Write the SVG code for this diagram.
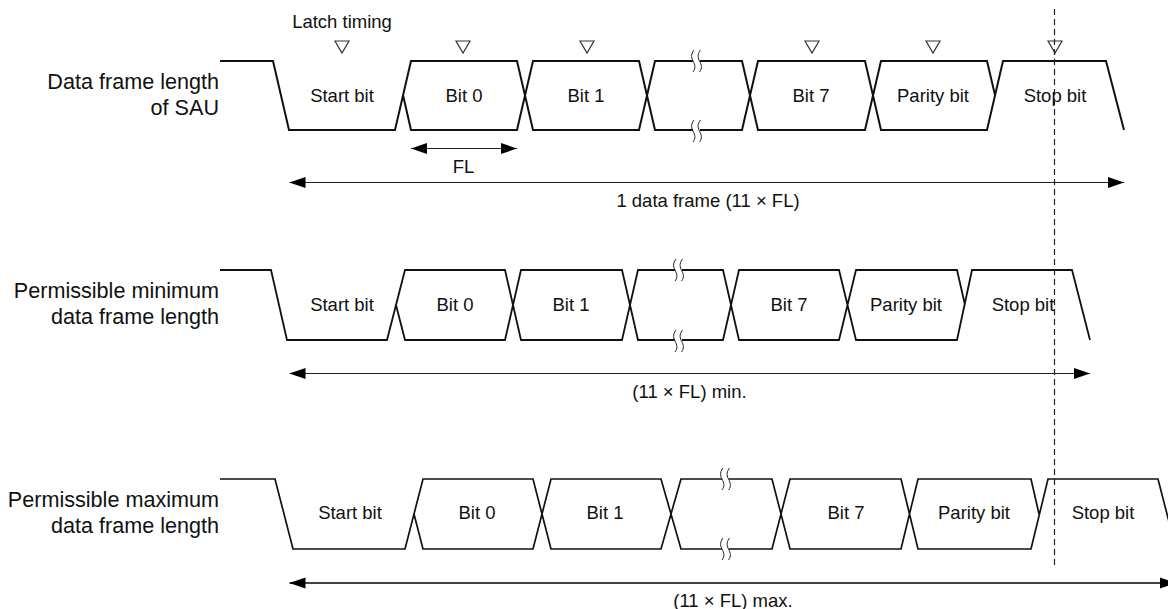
<svg xmlns="http://www.w3.org/2000/svg" width="1168" height="609" viewBox="0 0 1168 609">
<style>
text{font-family:"Liberation Sans",Arial,sans-serif;font-size:18.5px;fill:#111;text-anchor:middle}
.lab{font-size:21.6px;text-anchor:end}
.w{fill:none;stroke:#111;stroke-width:2;stroke-linejoin:miter}
.t{fill:#fff;stroke:#333;stroke-width:1.2}
.d{stroke:#222;stroke-width:1.2;fill:none}
.g{fill:none;stroke:#222;stroke-width:1}
.gap{stroke:#fff;stroke-width:6;fill:none}
</style>
<defs>
<marker id="a" viewBox="0 0 16 12" refX="16" refY="6" markerWidth="16" markerHeight="12" markerUnits="userSpaceOnUse" orient="auto-start-reverse"><path d="M0 0.500L16 6L0 11.500z" fill="#000"/></marker>
<g id="sq"><path class="gap" d="M-3 0H4"/><path class="g" d="M-2 -11C-6 -6 -4 -2 -3 0C-1 4 0 7 -3 11M4.500 -11C0.500 -6 2.500 -2 3.500 0C5.500 4 6.500 7 3.500 11"/></g>
<path id="tri" d="M-7 -6H7L0 6z"/>
</defs>
<g id="row1">
<path class="w" d="M220 61H273L289 130H395L411 61H517L533 130H639L655 61H742L758 130H865L881 61H987L995 95M403 95L411 130H517L533 61H639L655 130H742L758 61H865L881 130H987L1003 61H1106L1124 130"/>
<use href="#sq" x="696" y="61"/><use href="#sq" x="696" y="131"/>
</g>
<g id="row2">
<path class="w" style="stroke-width:1.8" d="M220 270H271L287 340H387L405 270H505L521 340H622L638 270H723L739 340H839L856 270H957L965 305M396 305L405 340H505L521 270H622L638 340H723L739 270H839L856 340H957L972 270H1072L1090 340"/>
<use href="#sq" x="678" y="270"/><use href="#sq" x="678" y="341"/>
</g>
<g id="row3">
<path class="w" style="stroke-width:1.7" d="M220 479H275L293 549H405L423 479H533L551 549H661L681 479H772L790 549H901L918 479H1031L1039 514M414 514L423 549H533L551 479H661L681 549H772L790 479H901L918 549H1031L1048 479H1158L1176 549"/>
<use href="#sq" x="725" y="479"/><use href="#sq" x="725" y="549"/>
</g>
<g id="latch">
<use href="#tri" class="t" x="342" y="47"/><use href="#tri" class="t" x="463" y="47"/><use href="#tri" class="t" x="587" y="47"/><use href="#tri" class="t" x="812" y="47"/><use href="#tri" class="t" x="933" y="47"/><use href="#tri" class="t" x="1055" y="47"/>
</g>
<g id="connectors">
<path class="d" d="M1054.500 9V566" stroke-dasharray="6 4"/>
<path class="d" d="M411 148.500H517" marker-start="url(#a)" marker-end="url(#a)"/>
<path class="d" d="M289.500 182.500H1124" marker-start="url(#a)" marker-end="url(#a)"/>
<path class="d" d="M289.500 373.500H1090" marker-start="url(#a)" marker-end="url(#a)"/>
<path class="d" style="stroke-width:2;stroke:#444" d="M289.500 583H1176" marker-start="url(#a)" marker-end="url(#a)"/>
</g>
<g id="labels">
<text x="342" y="28">Latch timing</text>
<text class="lab" x="219" y="89">Data frame length</text>
<text class="lab" x="219" y="115">of SAU</text>
<text class="lab" x="219" y="298">Permissible minimum</text>
<text class="lab" x="219" y="324">data frame length</text>
<text class="lab" x="219" y="507">Permissible maximum</text>
<text class="lab" x="219" y="533">data frame length</text>
<text x="342" y="102">Start bit</text><text x="464" y="102">Bit 0</text><text x="586" y="102">Bit 1</text><text x="811" y="102">Bit 7</text><text x="933" y="102">Parity bit</text><text x="1055" y="102">Stop bit</text>
<text x="463.500" y="173">FL</text>
<text x="708" y="206.500">1 data frame (11 × FL)</text>
<text x="342" y="311">Start bit</text><text x="455" y="311">Bit 0</text><text x="571" y="311">Bit 1</text><text x="789" y="311">Bit 7</text><text x="906" y="311">Parity bit</text><text x="1023" y="311">Stop bit</text>
<text x="689.500" y="398">(11 × FL) min.</text>
<text x="350" y="519">Start bit</text><text x="477" y="519">Bit 0</text><text x="605" y="519">Bit 1</text><text x="846" y="519">Bit 7</text><text x="974" y="519">Parity bit</text><text x="1103" y="519">Stop bit</text>
<text x="733" y="607">(11 × FL) max.</text>
</g>
</svg>
